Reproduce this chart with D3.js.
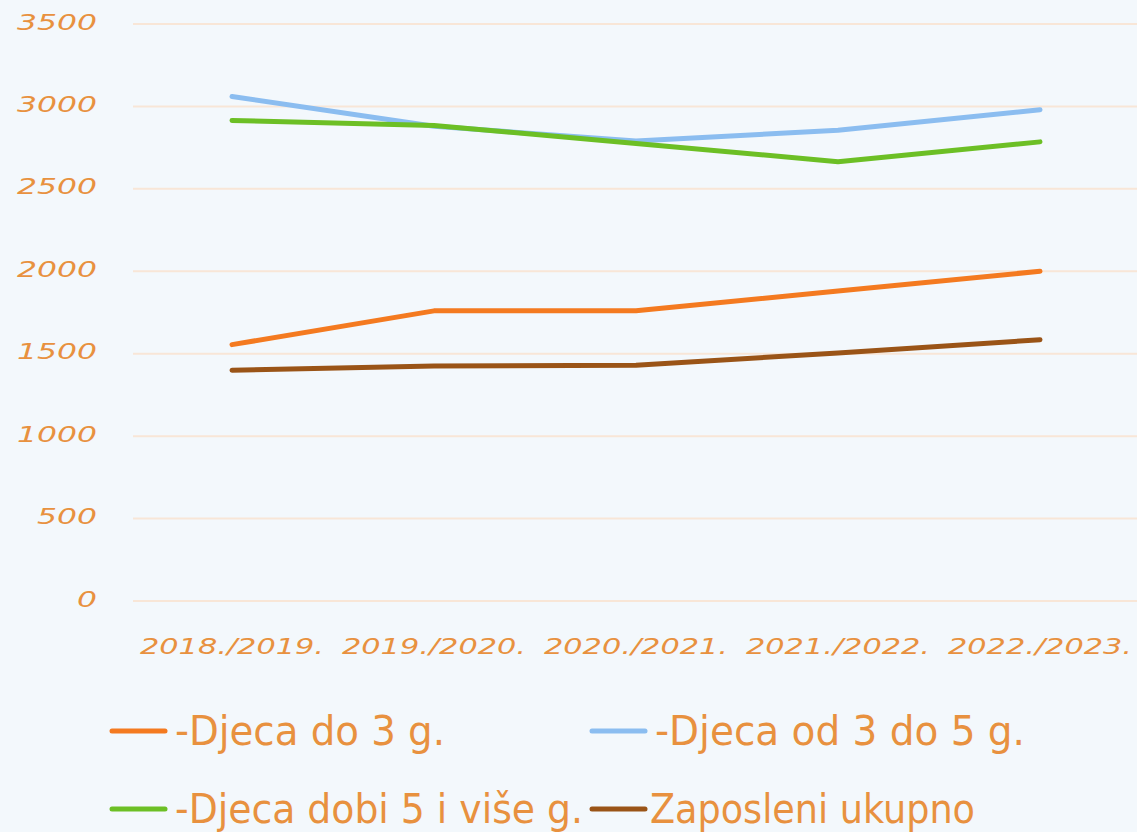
<!DOCTYPE html>
<html>
<head>
<meta charset="utf-8">
<script src="https://cdn.jsdelivr.net/npm/d3@7"></script>
<style>
  html, body { margin: 0; padding: 0; background: #f3f8fc; }
  svg { display: block; }
</style>
</head>
<body>
<svg id="chart"></svg>
<script>
var years = ["2018./2019.", "2019./2020.", "2020./2021.", "2021./2022.", "2022./2023."];
var djecaDo3 = [1555, 1760, 1760, 1880, 2000];
var djeca3do5 = [3060, 2880, 2790, 2855, 2980];
var djeca5iVise = [2915, 2885, 2775, 2665, 2785];
var zaposleni = [1400, 1425, 1430, 1505, 1585];
var yTicks = [0, 500, 1000, 1500, 2000, 2500, 3000, 3500];
var seriesNames = ["-Djeca do 3 g.", "-Djeca od 3 do 5 g.", "-Djeca dobi 5 i više g.", "Zaposleni ukupno"];
var seriesColors = ["#f47a20", "#8bbdf0", "#6cbf25", "#9a5417"];

var svgWidth = 1137;
var svgHeight = 832;
var textColor = "#e8913f";
var font = "'DejaVu Sans', sans-serif";
var legendFont = "'DejaVu Sans Condensed', 'DejaVu Sans', sans-serif";

var svg = d3.select("#chart")
  .attr("width", svgWidth)
  .attr("height", svgHeight);

var xScale = d3.scaleBand()
  .domain(years)
  .range([131, 1141]);

var yScale = d3.scaleLinear()
  .domain([0, 3500])
  .range([601, 24]);

// grid lines
svg.append("g")
  .selectAll("line")
  .data(yTicks)
  .enter()
  .append("line")
  .attr("x1", 133)
  .attr("x2", svgWidth)
  .attr("y1", function (d) { return yScale(d); })
  .attr("y2", function (d) { return yScale(d); })
  .attr("stroke", "#f8e6d7")
  .attr("stroke-width", 2);

// y axis
var yAxis = d3.axisLeft(yScale).tickValues(yTicks).tickFormat(d3.format("d")).tickSize(0).tickPadding(0);
var yG = svg.append("g")
  .attr("transform", "translate(97, -2)")
  .call(yAxis);
yG.select(".domain").remove();
yG.selectAll("text")
  .attr("fill", textColor)
  .style("font-family", font)
  .style("font-style", "italic")
  .style("font-size", "22px")
  .attr("textLength", function (d) { return String(d).length * 20; })
  .attr("lengthAdjust", "spacingAndGlyphs");

// x axis
var xAxis = d3.axisBottom(xScale).tickSize(0).tickPadding(0);
var xG = svg.append("g")
  .attr("transform", "translate(0, 638)")
  .call(xAxis);
xG.select(".domain").remove();
xG.selectAll("text")
  .attr("fill", textColor)
  .style("font-family", font)
  .style("font-style", "italic")
  .style("font-size", "22px")
  .attr("textLength", 184)
  .attr("lengthAdjust", "spacingAndGlyphs");

var allSeries = [djecaDo3, djeca3do5, djeca5iVise, zaposleni];

var line = d3.line()
  .x(function (d, i) { return xScale(years[i]) + xScale.bandwidth() / 2; })
  .y(function (d) { return yScale(d); });

allSeries.forEach(function (s, k) {
  svg.append("path")
    .datum(s)
    .attr("d", line)
    .attr("fill", "none")
    .attr("stroke", seriesColors[k])
    .attr("stroke-width", 5)
    .attr("stroke-linecap", "round")
    .attr("stroke-linejoin", "round");
});

// legend
var legendPos = [
  { x: 112, y: 731, tx: 175, w: 270 },
  { x: 592, y: 731, tx: 655, w: 370 },
  { x: 112, y: 809, tx: 175, w: 408 },
  { x: 592, y: 809, tx: 650, w: 325 }
];
var legend = svg.append("g")
  .selectAll("g")
  .data(seriesNames)
  .enter()
  .append("g");
legend.append("line")
  .attr("x1", function (d, i) { return legendPos[i].x; })
  .attr("x2", function (d, i) { return legendPos[i].x + 53; })
  .attr("y1", function (d, i) { return legendPos[i].y; })
  .attr("y2", function (d, i) { return legendPos[i].y; })
  .attr("stroke", function (d, i) { return seriesColors[i]; })
  .attr("stroke-width", 5)
  .attr("stroke-linecap", "round");
legend.append("text")
  .attr("x", function (d, i) { return legendPos[i].tx; })
  .attr("y", function (d, i) { return legendPos[i].y + 14; })
  .attr("fill", textColor)
  .style("font-family", legendFont)
  .style("font-size", "40px")
  .attr("textLength", function (d, i) { return legendPos[i].w; })
  .attr("lengthAdjust", "spacingAndGlyphs")
  .text(function (d) { return d; });
</script>
</body>
</html>
